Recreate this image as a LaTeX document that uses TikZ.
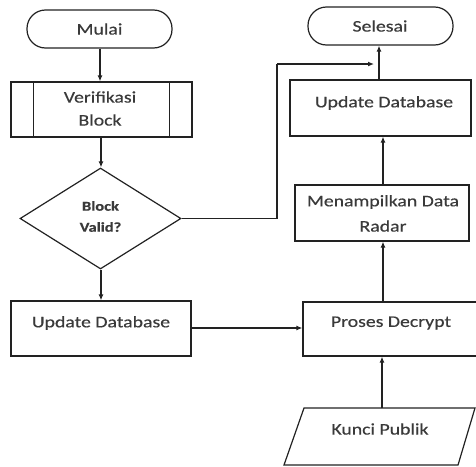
\documentclass[tikz,border=0pt]{standalone}
\usepackage{fontspec}
\setmainfont{Carlito}[FakeStretch=1.22,FakeBold=0.35]
\usetikzlibrary{shapes.geometric,arrows.meta}
\definecolor{ink}{HTML}{222222}
\definecolor{txt}{HTML}{3A3A3A}
\begin{document}
\begin{tikzpicture}[x=1pt,y=-1pt,
  line width=1.2pt,
  box/.style={draw=ink,rectangle,inner sep=0pt},
  term/.style={draw=ink,rectangle,rounded corners=18.5pt,inner sep=0pt},
  decision/.style={draw=ink,diamond,inner sep=0pt},
  lbl/.style={text=txt,font=\fontsize{16.2}{19}\selectfont,inner sep=0pt},
  blbl/.style={text=txt,font=\fontsize{13.5}{16}\selectfont\bfseries,inner sep=0pt},
  flow/.style={draw=ink,-{Latex[length=6pt,width=5pt]}},
  wire/.style={draw=ink}]
\useasboundingbox (0,0) rectangle (476,466);
\fill[white] (0,0) rectangle (476,466);

% left column
\node[term,minimum width=145pt,minimum height=38pt] (mulai) at (99.5,29) {};
\node[lbl] (tmulai) at (99.5,29) {Mulai};

\node[box,minimum width=181pt,minimum height=55pt] (verif) at (101.5,109.5) {};
\draw[ink] ([xshift=23pt]verif.north west) -- ([xshift=23pt]verif.south west);
\draw[ink] ([xshift=-23pt]verif.north east) -- ([xshift=-23pt]verif.south east);
\node[lbl] (tverif1) at (100,97) {Verifikasi};
\node[lbl] (tverif2) at (100,120) {Block};

\node[decision,minimum width=161pt,minimum height=101pt] (valid) at (100.5,218.5) {};
\node[blbl] (tvalid1) at (100.5,206) {Block};
\node[blbl] (tvalid2) at (100.5,227) {Valid?};

\node[box,minimum width=180pt,minimum height=55pt] (upd1) at (101,328.5) {};
\node[lbl] (tupd1) at (101,323) {Update Database};

% right column
\node[term,minimum width=145pt,minimum height=38pt] (selesai) at (380.5,26) {};
\node[lbl] (tselesai) at (380,26) {Selesai};

\node[box,minimum width=181pt,minimum height=56pt] (upd2) at (380.5,108) {};
\node[lbl] (tupd2) at (384,103) {Update Database};

\node[box,minimum width=174pt,minimum height=56pt] (radar) at (382,213) {};
\node[lbl] (tradar1) at (383,202) {Menampilkan Data};
\node[lbl] (tradar2) at (383,226) {Radar};

\node[box,minimum width=177pt,minimum height=54pt] (decrypt) at (391.5,329) {};
\node[lbl] (tdecrypt) at (391,323) {Proses Decrypt};

% input: public key
\draw[ink] (304,408) -- (475,408) -- (458,465) -- (284,465) -- cycle;
\coordinate (kunci) at (382,408);
\node[lbl] (tkunci) at (380,429) {Kunci Publik};

% connectors
\coordinate (jn1) at (277,218.5);
\coordinate (jn2) at (277,64);
\coordinate (jn3) at (374,64);

\draw[flow] (mulai.south -| 100,0) -- (verif.north -| 100,0);
\draw[flow] (verif.south -| 101,0) -- (valid.north -| 101,0);
\draw[flow] (valid.south -| 101,0) -- (upd1.north -| 101,0);
\draw[flow] (upd1.east |- 0,328) -- (decrypt.west |- 0,328);
\draw[flow] (kunci) -- (decrypt.south -| 382,0);
\draw[flow] (decrypt.north -| 383,0) -- (radar.south -| 383,0);
\draw[flow] (radar.north -| 383,0) -- (upd2.south -| 383,0);
\draw[flow] (upd2.north -| 379,0) -- (selesai.south -| 379,0);
\draw[wire] (valid.east) -- (jn1) -- (jn2);
\draw[flow] (jn2) -- (jn3);
\end{tikzpicture}
\end{document}
